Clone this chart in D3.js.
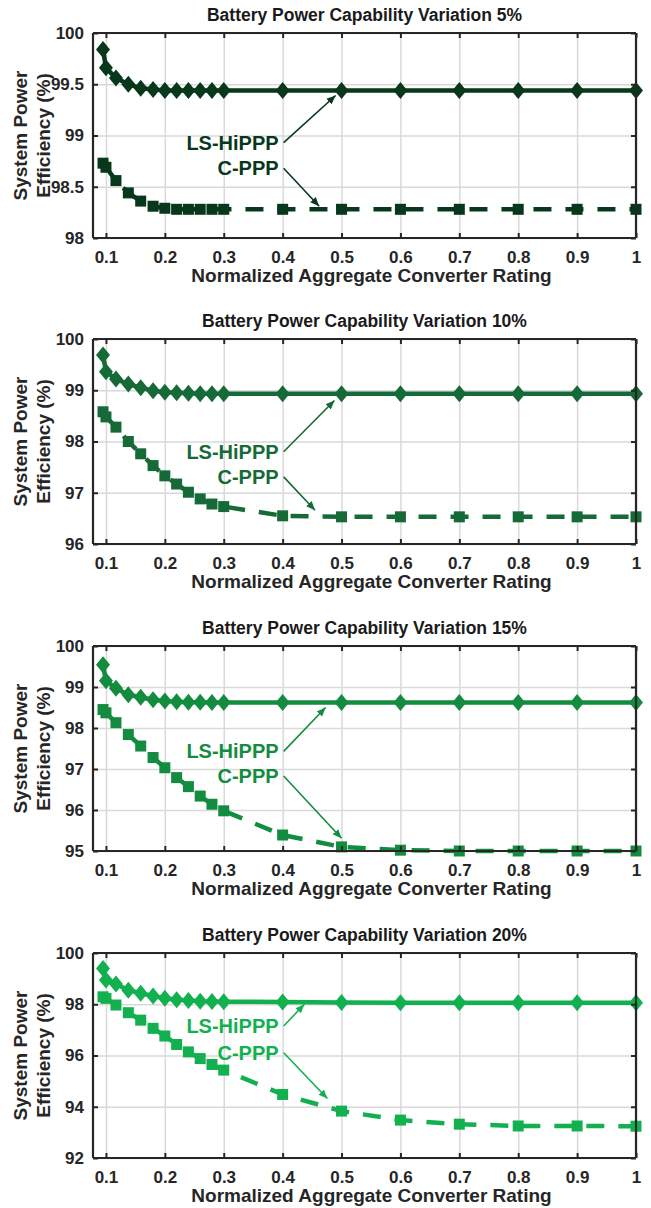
<!DOCTYPE html>
<html><head><meta charset="utf-8">
<script src="https://cdn.jsdelivr.net/npm/d3@7"></script>
<style>
html,body{margin:0;padding:0;background:#fff;}
svg text{font-family:"Liberation Sans",Arial,Helvetica,sans-serif;font-weight:bold;}
</style></head>
<body>
<svg id="chart" width="651" height="1208"></svg>
<script>
// ---------- data ----------
const xValues = [0.095, 0.1, 0.117, 0.138, 0.159, 0.18, 0.2, 0.22, 0.24, 0.26, 0.28, 0.3, 0.4, 0.5, 0.6, 0.7, 0.8, 0.9, 1.0];
const xTicks = [0.1, 0.2, 0.3, 0.4, 0.5, 0.6, 0.7, 0.8, 0.9, 1];
const titles = ["Battery Power Capability Variation 5%", "Battery Power Capability Variation 10%",
                "Battery Power Capability Variation 15%", "Battery Power Capability Variation 20%"];
const seriesNames = ["LS-HiPPP", "C-PPP"];

const lsHiPPP5  = [99.84, 99.66, 99.56, 99.50, 99.46, 99.45, 99.44, 99.44, 99.44, 99.44, 99.44, 99.44, 99.44, 99.44, 99.44, 99.44, 99.44, 99.44, 99.44];
const cPPP5     = [98.73, 98.69, 98.56, 98.44, 98.36, 98.31, 98.29, 98.28, 98.28, 98.28, 98.28, 98.28, 98.28, 98.28, 98.28, 98.28, 98.28, 98.28, 98.28];
const lsHiPPP10 = [99.69, 99.36, 99.22, 99.12, 99.05, 98.99, 98.96, 98.95, 98.94, 98.93, 98.93, 98.93, 98.93, 98.93, 98.93, 98.93, 98.93, 98.93, 98.93];
const cPPP10    = [98.58, 98.48, 98.28, 98.00, 97.76, 97.53, 97.33, 97.17, 97.01, 96.88, 96.78, 96.73, 96.55, 96.53, 96.53, 96.53, 96.53, 96.53, 96.53];
const lsHiPPP15 = [99.54, 99.15, 98.97, 98.81, 98.75, 98.69, 98.66, 98.64, 98.63, 98.63, 98.62, 98.62, 98.62, 98.62, 98.62, 98.62, 98.62, 98.62, 98.62];
const cPPP15    = [98.45, 98.37, 98.13, 97.84, 97.56, 97.28, 97.03, 96.79, 96.57, 96.34, 96.14, 95.98, 95.39, 95.10, 95.02, 95.00, 95.00, 95.00, 95.00];
const lsHiPPP20 = [99.40, 98.95, 98.79, 98.55, 98.43, 98.32, 98.23, 98.18, 98.15, 98.12, 98.11, 98.10, 98.09, 98.07, 98.06, 98.06, 98.06, 98.06, 98.06];
const cPPP20    = [98.29, 98.23, 97.97, 97.67, 97.38, 97.06, 96.76, 96.43, 96.14, 95.88, 95.65, 95.43, 94.48, 93.83, 93.48, 93.32, 93.25, 93.25, 93.24];

const yDomains = [[98, 100], [96, 100], [95, 100], [92, 100]];
const yTicks = [[98, 98.5, 99, 99.5, 100], [96, 97, 98, 99, 100], [95, 96, 97, 98, 99, 100], [92, 94, 96, 98, 100]];
const colors = ["#07381b", "#166a37", "#148c40", "#12b04f"];

// annotations: [textX, textY, tipX, tipY] in data units, per series per panel
const annLS = [[0.4, 98.93, 0.49, 99.39], [0.4, 97.80, 0.488, 98.80], [0.4, 97.43, 0.473, 98.50], [0.4, 97.15, 0.437, 98.00]];
const annC  = [[0.4, 98.68, 0.462, 98.31], [0.4, 97.31, 0.455, 96.66], [0.4, 96.83, 0.50, 95.31], [0.4, 96.11, 0.476, 94.32]];

// ---------- layout ----------
const lsSeries = [lsHiPPP5, lsHiPPP10, lsHiPPP15, lsHiPPP20];
const cSeries = [cPPP5, cPPP10, cPPP15, cPPP20];
const plotTops = [33, 339, 646, 953];
const plotH = 205;
const left = 93, right = 636;

const svg = d3.select("#chart");
const x = d3.scaleLinear().domain([0.078, 1]).range([left, right]);

const defs = svg.append("defs");
colors.forEach((c, i) => {
  defs.append("marker").attr("id", "arr" + i)
    .attr("viewBox", "0 0 10 10").attr("refX", 10).attr("refY", 5)
    .attr("markerWidth", 9).attr("markerHeight", 9).attr("markerUnits", "userSpaceOnUse")
    .attr("orient", "auto")
    .append("path").attr("d", "M0,0.8 L10,5 L0,9.2 z").attr("fill", c);
});

for (let p = 0; p < 4; p++) {
  const top = plotTops[p], bottom = top + plotH;
  const y = d3.scaleLinear().domain(yDomains[p]).range([bottom, top]);
  const g = svg.append("g");
  const col = colors[p];

  // grid
  g.append("g").attr("transform", `translate(0,${bottom})`)
    .call(d3.axisBottom(x).tickValues(xTicks).tickSize(-plotH).tickFormat(""))
    .call(a => a.select(".domain").remove())
    .call(a => a.selectAll("line").attr("stroke", "#d9d9d9").attr("stroke-width", 1.5));
  g.append("g").attr("transform", `translate(${left},0)`)
    .call(d3.axisLeft(y).tickValues(yTicks[p]).tickSize(-(right - left)).tickFormat(""))
    .call(a => a.select(".domain").remove())
    .call(a => a.selectAll("line").attr("stroke", "#d9d9d9").attr("stroke-width", 1.5));

  // lines
  const line = d3.line().x((d, i) => x(xValues[i])).y(d => y(d));
  g.append("path").datum(cSeries[p]).attr("d", line).attr("fill", "none")
    .attr("stroke", col).attr("stroke-width", 4.5).attr("stroke-dasharray", "18,14");
  g.append("path").datum(lsSeries[p]).attr("d", line).attr("fill", "none")
    .attr("stroke", col).attr("stroke-width", 4.5);

  // markers
  g.selectAll(".sq").data(cSeries[p]).enter().append("rect")
    .attr("x", (d, i) => x(xValues[i]) - 5.5).attr("y", d => y(d) - 5.5)
    .attr("width", 11).attr("height", 11).attr("fill", col);
  g.selectAll(".dm").data(lsSeries[p]).enter().append("path")
    .attr("d", (d, i) => {
      const cx = x(xValues[i]), cy = y(d);
      return `M${cx},${cy - 8.5} L${cx + 7},${cy} L${cx},${cy + 8.5} L${cx - 7},${cy} Z`;
    }).attr("fill", col);

  // axes frame and ticks (inward, all four sides)
  const tickLen = 5;
  const axB = g.append("g").attr("transform", `translate(0,${bottom})`)
    .call(d3.axisBottom(x).tickValues(xTicks).tickSize(-tickLen).tickPadding(8 + tickLen).tickFormat(d3.format("")));
  const axT = g.append("g").attr("transform", `translate(0,${top})`)
    .call(d3.axisTop(x).tickValues(xTicks).tickSize(-tickLen).tickFormat(""));
  const axL = g.append("g").attr("transform", `translate(${left},0)`)
    .call(d3.axisLeft(y).tickValues(yTicks[p]).tickSize(-tickLen).tickPadding(4 + tickLen).tickFormat(d3.format("")));
  const axR = g.append("g").attr("transform", `translate(${right},0)`)
    .call(d3.axisRight(y).tickValues(yTicks[p]).tickSize(-tickLen).tickFormat(""));
  [axB, axT, axL, axR].forEach(a => {
    a.select(".domain").attr("stroke", "#262626").attr("stroke-width", 2.2);
    a.selectAll(".tick line").attr("stroke", "#262626").attr("stroke-width", 2);
    a.selectAll("text").attr("fill", "#262626").style("font-size", "17px")
      .style("font-family", "'Liberation Sans', Arial, sans-serif").style("font-weight", "bold");
  });
  axB.selectAll(".domain").attr("d", `M${left},0H${right}`);
  axT.selectAll(".domain").attr("d", `M${left},0H${right}`);
  axL.selectAll(".domain").attr("d", `M0,${top}V${bottom}`);
  axR.selectAll(".domain").attr("d", `M0,${top}V${bottom}`);

  // title
  g.append("text").attr("x", (left + right) / 2).attr("y", top - 12)
    .attr("text-anchor", "middle").attr("fill", "#1a1a1a").style("font-size", "17.5px")
    .text(titles[p]);
  // x label
  g.append("text").attr("x", (left + right) / 2 + 7).attr("y", bottom + 44)
    .attr("text-anchor", "middle").attr("fill", "#262626").style("font-size", "19px")
    .text("Normalized Aggregate Converter Rating");
  // y label (two lines)
  const cy = (top + bottom) / 2;
  g.append("text").attr("transform", `translate(27,${cy}) rotate(-90)`)
    .attr("text-anchor", "middle").attr("fill", "#262626").style("font-size", "19px")
    .text("System Power");
  g.append("text").attr("transform", `translate(50,${cy}) rotate(-90)`)
    .attr("text-anchor", "middle").attr("fill", "#262626").style("font-size", "19px")
    .text("Efficiency (%)");

  // annotations
  [[annLS[p], seriesNames[0]], [annC[p], seriesNames[1]]].forEach(([a, name]) => {
    const tx = x(a[0]), ty = y(a[1]);
    g.append("text").attr("x", tx - 4).attr("y", ty + 7)
      .attr("text-anchor", "end").attr("fill", col).style("font-size", "20px").text(name);
    g.append("line").attr("x1", tx + 1).attr("y1", ty).attr("x2", x(a[2])).attr("y2", y(a[3]))
      .attr("stroke", col).attr("stroke-width", 1.6).attr("marker-end", `url(#arr${p})`);
  });
}
</script>
</body></html>
